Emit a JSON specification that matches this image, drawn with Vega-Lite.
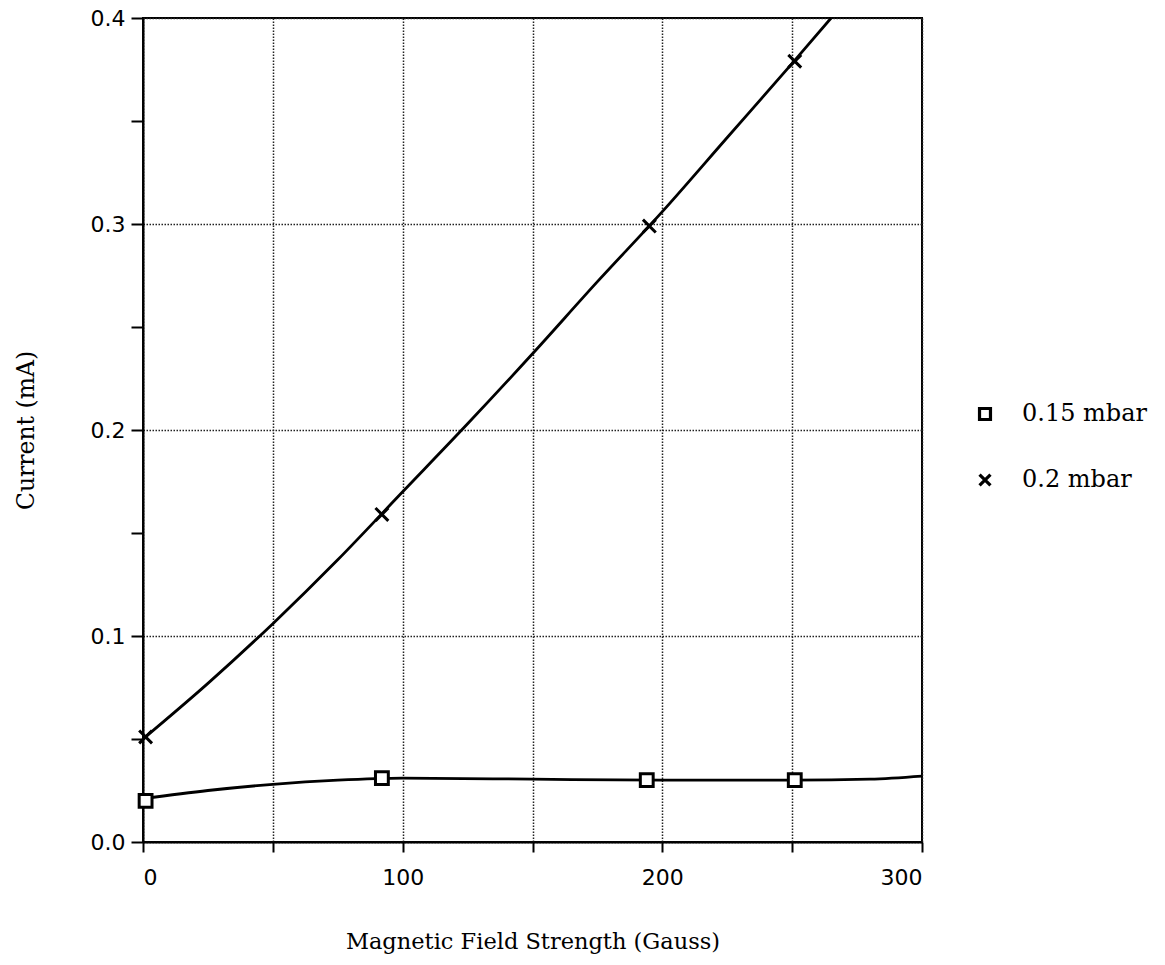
{
  "$schema": "https://vega.github.io/schema/vega-lite/v6.json",
  "width": 779,
  "height": 824,
  "autosize": {"type": "none"},
  "padding": {"left": 143, "top": 18, "right": 243, "bottom": 123},
  "background": "white",
  "datasets": {
    "measured": [
      {"field": 1, "current": 0.020, "series": "0.15 mbar"},
      {"field": 92, "current": 0.031, "series": "0.15 mbar"},
      {"field": 194, "current": 0.030, "series": "0.15 mbar"},
      {"field": 251, "current": 0.030, "series": "0.15 mbar"},
      {"field": 1, "current": 0.051, "series": "0.2 mbar"},
      {"field": 92, "current": 0.159, "series": "0.2 mbar"},
      {"field": 195, "current": 0.299, "series": "0.2 mbar"},
      {"field": 251, "current": 0.379, "series": "0.2 mbar"}
    ],
    "fit": [
      {"field": 0, "current": 0.021, "series": "0.15 mbar"},
      {"field": 25, "current": 0.025, "series": "0.15 mbar"},
      {"field": 50, "current": 0.028, "series": "0.15 mbar"},
      {"field": 75, "current": 0.030, "series": "0.15 mbar"},
      {"field": 100, "current": 0.031, "series": "0.15 mbar"},
      {"field": 150, "current": 0.0305, "series": "0.15 mbar"},
      {"field": 200, "current": 0.030, "series": "0.15 mbar"},
      {"field": 250, "current": 0.030, "series": "0.15 mbar"},
      {"field": 280, "current": 0.0305, "series": "0.15 mbar"},
      {"field": 300, "current": 0.032, "series": "0.15 mbar"},
      {"field": 0, "current": 0.050, "series": "0.2 mbar"},
      {"field": 25, "current": 0.077, "series": "0.2 mbar"},
      {"field": 50, "current": 0.106, "series": "0.2 mbar"},
      {"field": 75, "current": 0.137, "series": "0.2 mbar"},
      {"field": 100, "current": 0.170, "series": "0.2 mbar"},
      {"field": 125, "current": 0.203, "series": "0.2 mbar"},
      {"field": 150, "current": 0.237, "series": "0.2 mbar"},
      {"field": 175, "current": 0.272, "series": "0.2 mbar"},
      {"field": 200, "current": 0.306, "series": "0.2 mbar"},
      {"field": 225, "current": 0.342, "series": "0.2 mbar"},
      {"field": 250, "current": 0.378, "series": "0.2 mbar"},
      {"field": 265, "current": 0.400, "series": "0.2 mbar"}
    ]
  },
  "encoding": {
    "x": {
      "field": "field",
      "type": "quantitative",
      "scale": {"domain": [0, 300], "nice": false, "zero": false},
      "axis": {
        "title": "Magnetic Field Strength (Gauss)",
        "values": [0, 50, 100, 150, 200, 250, 300],
        "labelExpr": "datum.value % 100 == 0 ? datum.label : ''",
        "tickSize": 10,
        "labelPadding": 15,
        "titlePadding": 42,
        "titleFontSize": 22.5
      }
    },
    "y": {
      "field": "current",
      "type": "quantitative",
      "scale": {"domain": [0, 0.4], "nice": false, "zero": false},
      "axis": {
        "title": "Current (mA)",
        "values": [0, 0.05, 0.1, 0.15, 0.2, 0.25, 0.3, 0.35, 0.4],
        "format": ".1f",
        "labelExpr": "round(datum.value * 20) % 2 == 0 ? datum.label : ''",
        "gridOpacity": {"condition": {"test": "round(datum.value * 20) % 2 == 0", "value": 1}, "value": 0},
        "tickSize": 12,
        "labelPadding": 6,
        "titlePadding": 52,
        "titleFontSize": 23.5
      }
    }
  },
  "layer": [
    {
      "data": {"name": "fit"},
      "mark": {"type": "line", "interpolate": "monotone", "color": "black", "strokeWidth": 2.8, "clip": true},
      "encoding": {"detail": {"field": "series"}}
    },
    {
      "data": {"name": "measured"},
      "mark": {"type": "point", "filled": false, "fill": "white", "fillOpacity": 1, "strokeWidth": 3, "size": 165, "opacity": 1},
      "encoding": {
        "stroke": {
          "field": "series",
          "type": "nominal",
          "scale": {"domain": ["0.15 mbar", "0.2 mbar"], "range": ["black", "black"]},
          "legend": null
        },
        "shape": {
          "field": "series",
          "type": "nominal",
          "scale": {"domain": ["0.15 mbar", "0.2 mbar"], "range": ["square", "M-1,-1L1,1M1,-1L-1,1"]},
          "legend": {
            "title": null,
            "orient": "none",
            "legendX": 830,
            "legendY": 384,
            "padding": 0,
            "rowPadding": 42,
            "labelOffset": 25,
            "symbolSize": 120,
            "symbolStrokeWidth": 3.2,
            "symbolStrokeColor": "black",
            "symbolFillColor": "white",
            "labelFont": "DejaVu Serif",
            "labelFontSize": 24,
            "labelColor": "black",
            "labelLimit": 300
          }
        }
      }
    }
  ],
  "config": {
    "view": {"stroke": "black", "strokeWidth": 2},
    "axis": {
      "domainColor": "black",
      "domainWidth": 2,
      "tickColor": "black",
      "tickWidth": 2,
      "grid": true,
      "gridColor": "#222",
      "gridDash": [1.5, 1.5],
      "gridWidth": 1.5,
      "labelFont": "DejaVu Sans",
      "labelFontSize": 22,
      "labelColor": "black",
      "titleFont": "DejaVu Serif",
      "titleFontSize": 24,
      "titleFontWeight": "normal",
      "titleColor": "black"
    }
  }
}
